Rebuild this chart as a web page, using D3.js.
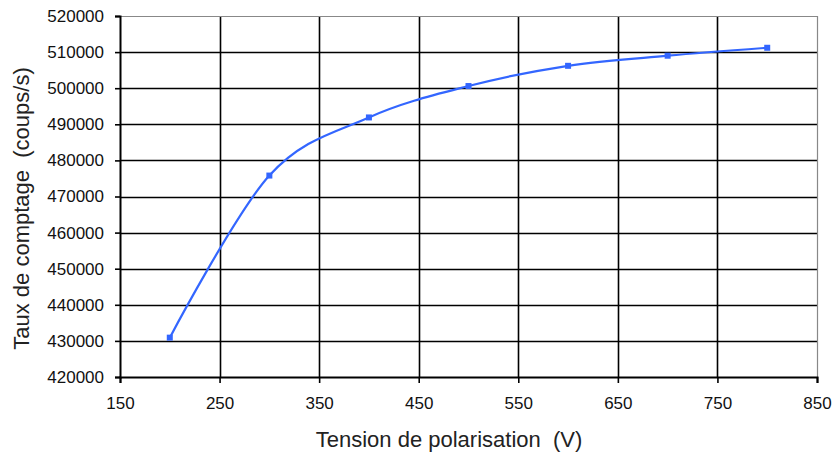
<!DOCTYPE html>
<html>
<head>
<meta charset="utf-8">
<script src="https://cdn.jsdelivr.net/npm/d3@7"></script>
<style>
  body { margin: 0; background: #fff; }
  text { font-family: "Liberation Sans", Arial, sans-serif; }
</style>
</head>
<body>
<div id="chart"></div>
<script>
// data
const tensions = [200, 300, 400, 500, 600, 700, 800];
const taux = [430900, 475800, 491900, 500600, 506200, 509000, 511200];
const xTicks = [150, 250, 350, 450, 550, 650, 750, 850];
const yTicks = [420000, 430000, 440000, 450000, 460000, 470000, 480000, 490000, 500000, 510000, 520000];

const W = 836, H = 453;
const margin = {top: 16, right: 19, bottom: 76, left: 120},
    width = W - margin.left - margin.right,
    height = H - margin.top - margin.bottom;

const svg = d3.select("#chart")
  .append("svg")
    .attr("width", W)
    .attr("height", H)
  .append("g")
    .attr("transform", `translate(${margin.left},${margin.top})`);

const x = d3.scaleLinear().domain([150, 850]).range([0, width]);
const y = d3.scaleLinear().domain([420000, 520000]).range([height, 0]);

// gridlines
svg.append("g")
  .selectAll("line")
  .data(yTicks.slice(1, -1))
  .join("line")
    .attr("x1", 0).attr("x2", width)
    .attr("y1", d => Math.round(y(d)) + 0.5).attr("y2", d => Math.round(y(d)) + 0.5)
    .attr("stroke", "#000").attr("stroke-width", 1.6);

svg.append("g")
  .selectAll("line")
  .data(xTicks.slice(1, -1))
  .join("line")
    .attr("y1", 0).attr("y2", height)
    .attr("x1", d => Math.round(x(d)) + 0.5).attr("x2", d => Math.round(x(d)) + 0.5)
    .attr("stroke", "#000").attr("stroke-width", 1.6);

// top / right border
svg.append("path")
  .attr("d", `M0,0.5H${width + 0.5}V${height}`)
  .attr("fill", "none")
  .attr("stroke", "#888")
  .attr("stroke-width", 1.2);

// axes
const yAxis = svg.append("g")
  .call(d3.axisLeft(y).tickValues(yTicks).tickFormat(d3.format("d")).tickSize(5).tickPadding(11));
const xAxis = svg.append("g")
  .attr("transform", `translate(0,${height})`)
  .call(d3.axisBottom(x).tickValues(xTicks).tickFormat(d3.format("d")).tickSize(6).tickPadding(14));

[yAxis, xAxis].forEach(a => {
  a.select(".domain").attr("stroke", "#000").attr("stroke-width", 2);
  a.selectAll(".tick line").attr("stroke", "#000").attr("stroke-width", 1.6);
  a.selectAll("text")
    .attr("fill", "#111")
    .style("font-size", "17px")
    .style("font-family", "Liberation Sans, Arial, sans-serif");
});

// curve (uniform catmull-rom, close to the spreadsheet smoothing)
const line = d3.line()
  .x((d, i) => x(tensions[i]))
  .y(d => y(d))
  .curve(d3.curveCatmullRom.alpha(0));

svg.append("path")
  .datum(taux)
  .attr("fill", "none")
  .attr("stroke", "#3366ff")
  .attr("stroke-width", 2.2)
  .attr("d", line);

svg.append("g")
  .selectAll("rect")
  .data(taux)
  .join("rect")
    .attr("x", (d, i) => x(tensions[i]) - 3)
    .attr("y", d => y(d) - 3)
    .attr("width", 6)
    .attr("height", 6)
    .attr("fill", "#3366ff");

// axis titles
svg.append("text")
  .attr("x", width / 2 - 19.5)
  .attr("y", height + 70)
  .attr("text-anchor", "middle")
  .attr("fill", "#222")
  .style("font-size", "22px")
  .text("Tension de polarisation\u00a0 (V)");

svg.append("text")
  .attr("transform", `translate(${29 - margin.left},${height / 2 + 12}) rotate(-90)`)
  .attr("text-anchor", "middle")
  .attr("fill", "#222")
  .style("font-size", "22px")
  .text("Taux de comptage\u00a0 (coups/s)");
</script>
</body>
</html>
